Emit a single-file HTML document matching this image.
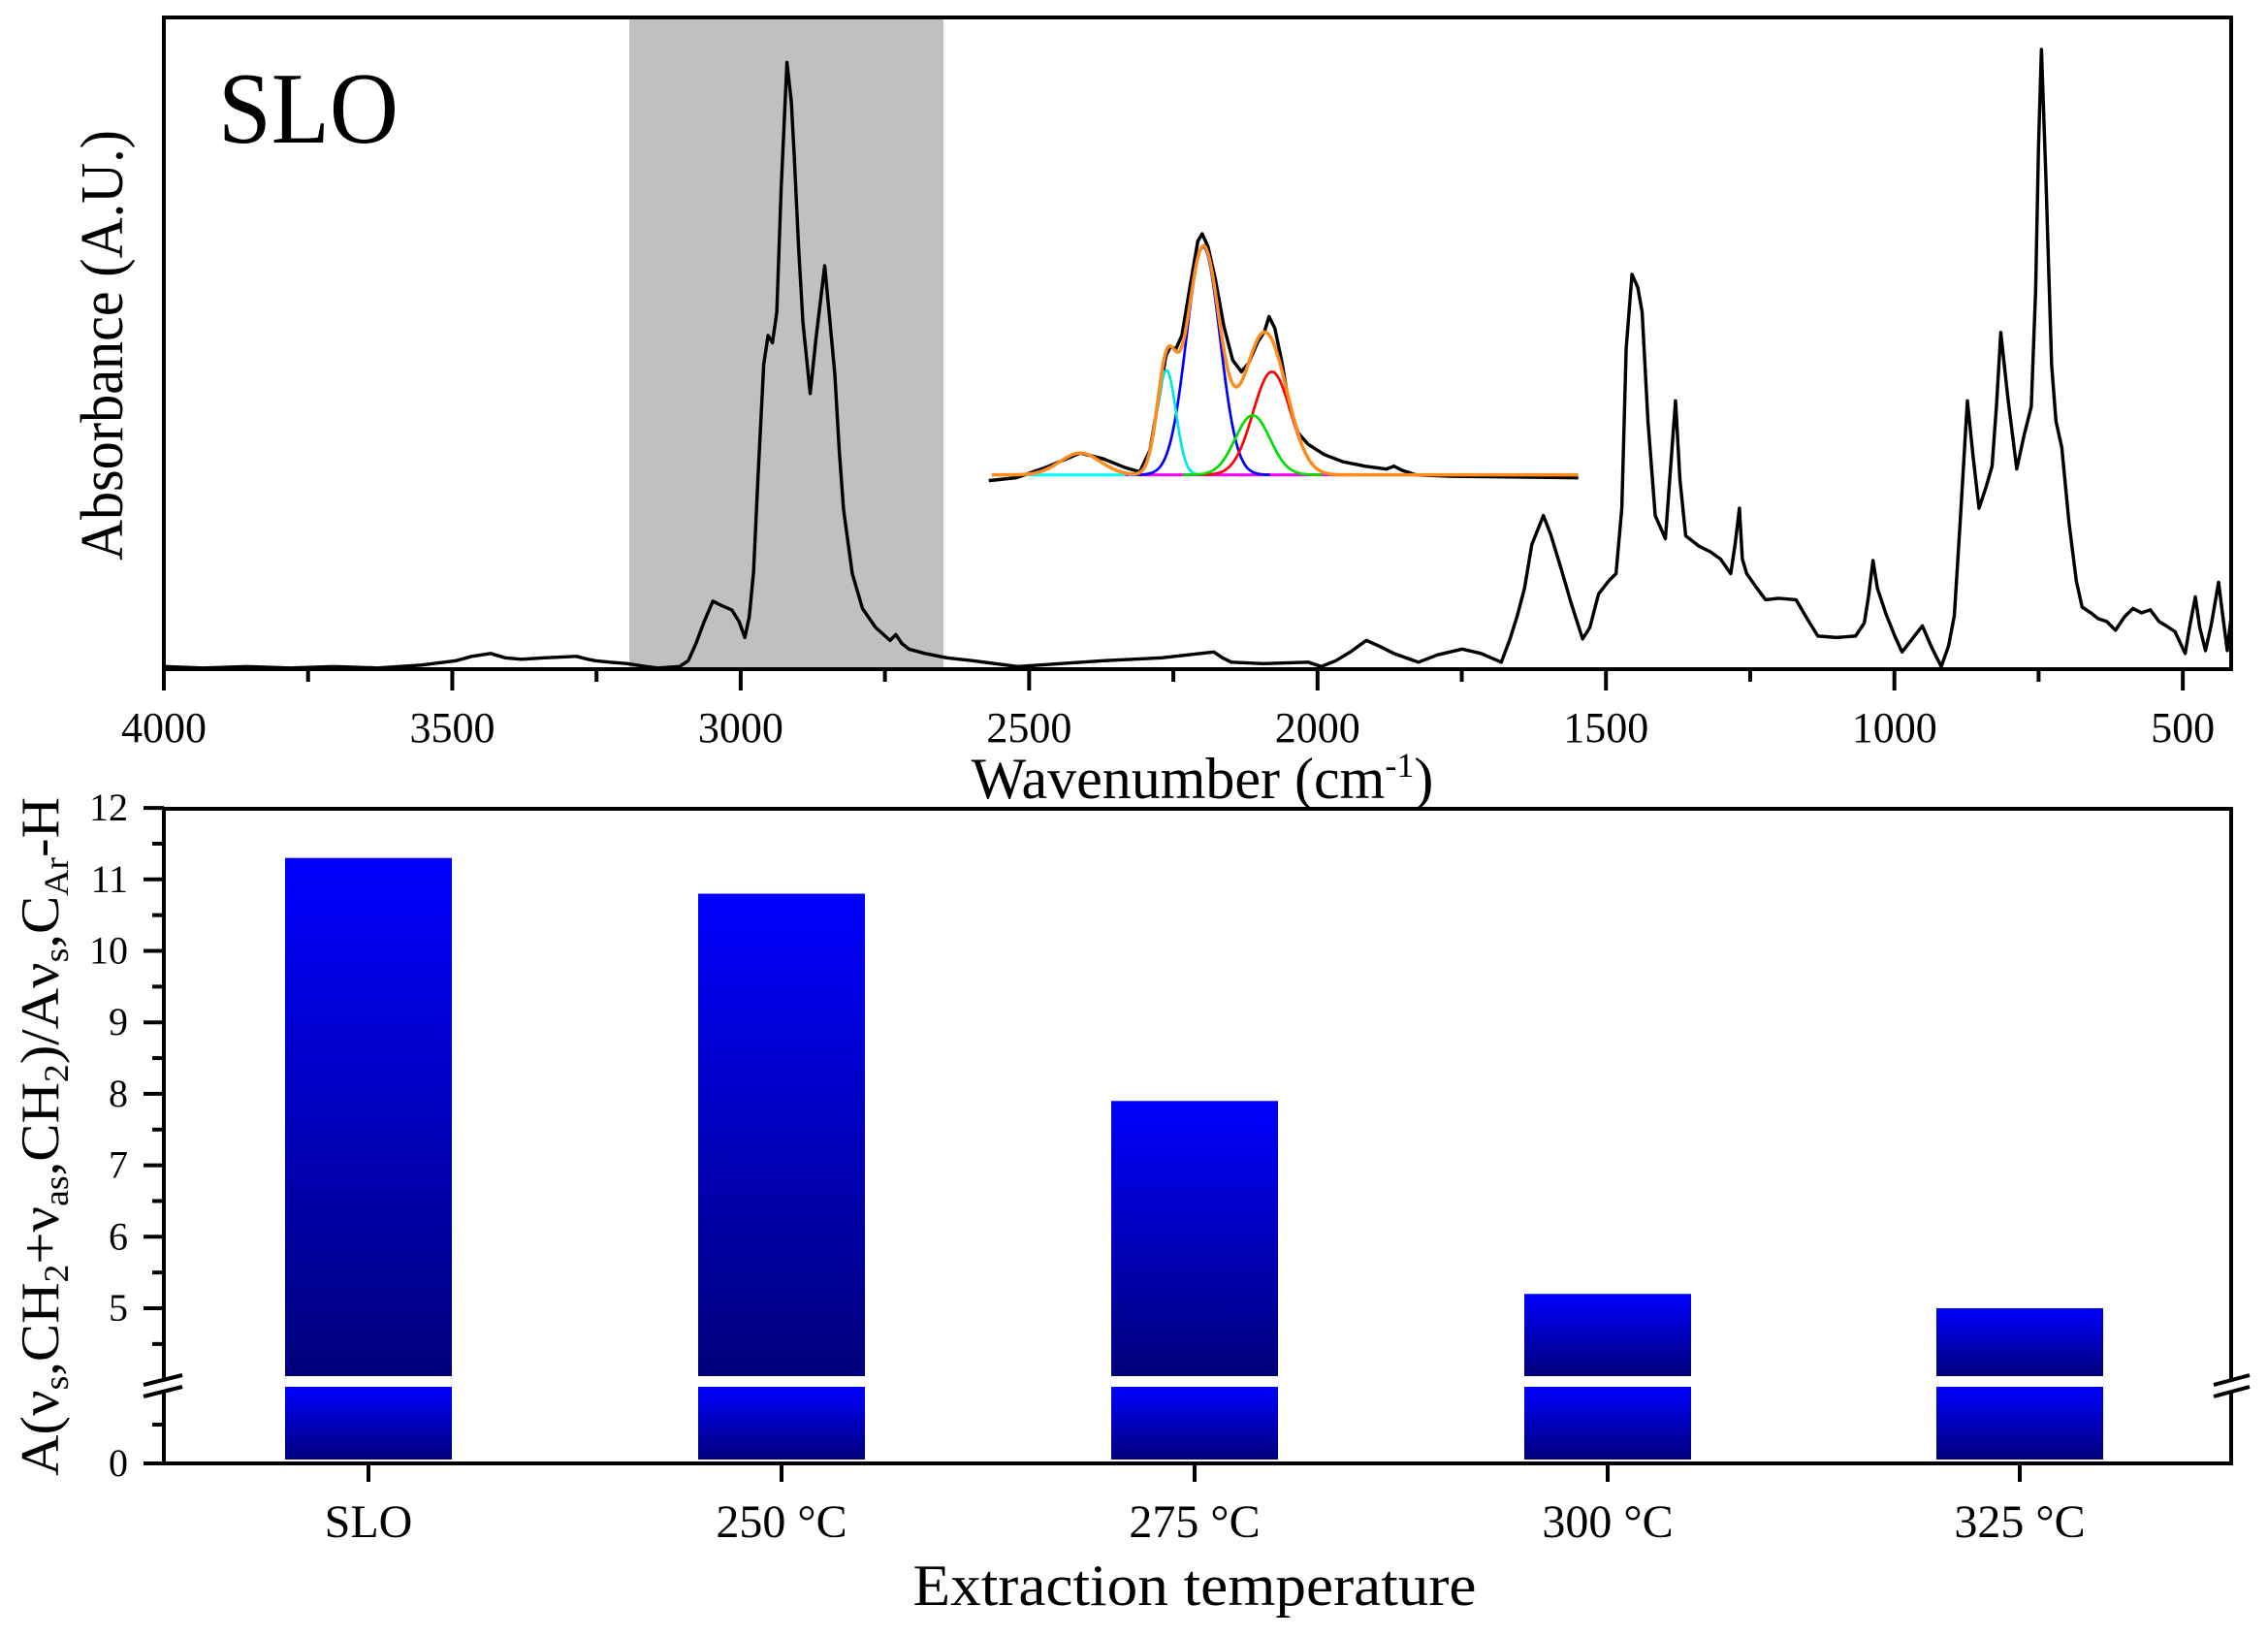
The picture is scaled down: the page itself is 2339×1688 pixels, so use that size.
<!DOCTYPE html>
<html><head><meta charset="utf-8"><style>
html,body{margin:0;padding:0;background:#fff;}
svg{display:block;}
text{font-family:"Liberation Serif",serif;fill:#000;}
</style></head><body>
<svg id="s" width="2339" height="1688" viewBox="0 0 2339 1688" xmlns="http://www.w3.org/2000/svg">
<defs>
<linearGradient id="g" x1="0" y1="0" x2="0" y2="1">
<stop offset="0" stop-color="#0000ff"/><stop offset="1" stop-color="#00007a"/></linearGradient>
<clipPath id="cp"><rect x="169" y="18" width="2132" height="672"/></clipPath>
</defs>
<rect width="2339" height="1688" fill="#fff"/>
<rect x="649" y="18" width="324" height="672" fill="#c0c0c0"/>
<g clip-path="url(#cp)">
<g transform="scale(1.4974)" fill="none" stroke-linejoin="round">
<polyline stroke="#000" stroke-width="2.3" points="113,459 140,460 170,459 200,460 230,459 260,460 290,458 314,455 325,452 338,450 348,453 359,454 375,453 397,452 405,454 410,455 420,456 432,457 445,459 453,460 468,459 474,455 479,444 485,428 491,414 497,417 504,420 509,428 513,439 516,425 519,394 522,330 526,251 529,231 532,236 535,215 538,130 542,43 545,70 547,107 550,170 553,222 558,271 562,233 568,183 571,215 575,258 578,310 581,351 587,395 594,419 603,432 613,441 617,437 621,443 626,447 637,450 652,453 670,455 701,459 730,457 760,455 800,453 836,449 842,453 848,456 870,457 901,456 910,459 920,455 930,449 941,441 950,445 960,450 977,456 990,451 1007,447 1020,450 1034,456 1040,440 1045,424 1050,405 1055,375 1063,355 1068,368 1075,391 1082,415 1090,440 1095,432 1101,409 1108,400 1113,395 1117,350 1120,240 1124,189 1128,198 1131,215 1135,290 1140,355 1147,371 1150,330 1154,276 1157,330 1161,369 1170,376 1178,380 1185,385 1192,395 1195,375 1198,350 1200,385 1203,395 1210,405 1216,413 1225,412 1237,413 1244,425 1252,438 1265,439 1278,438 1284,429 1287,410 1290,386 1293,405 1299,423 1305,438 1310,449 1317,440 1324,431 1330,445 1337,459 1342,445 1346,424 1350,360 1355,276 1359,315 1363,350 1368,335 1372,321 1375,280 1378,229 1383,275 1389,323 1394,300 1399,280 1402,200 1404,100 1406,34 1409,120 1413,251 1416,290 1420,308 1425,360 1430,400 1434,418 1440,422 1445,426 1451,428 1457,434 1463,425 1469,419 1475,422 1481,420 1487,428 1492,431 1498,435 1505,450 1508,432 1512,411 1515,432 1519,448 1523,430 1528,401 1531,425 1534,448 1536,430 1538,415 1541,440 1545,440"/>
<g id="inset"></g>
</g>
</g>
<rect x="169" y="18" width="2132" height="672" fill="none" stroke="#000" stroke-width="4"/>
<g stroke="#000" stroke-width="4" id="xt"></g>
<g font-size="44" text-anchor="middle" id="xl"></g>
<text x="1240" y="823" font-size="60" text-anchor="middle">Wavenumber (cm<tspan dy="-22" font-size="36">-1</tspan><tspan dy="22">)</tspan></text>
<text x="225" y="147" font-size="105" textLength="186" lengthAdjust="spacingAndGlyphs">SLO</text>
<text transform="translate(126,356) rotate(-90)" font-size="62" text-anchor="middle" textLength="444" lengthAdjust="spacingAndGlyphs">Absorbance (A.U.)</text>
<g id="bars"></g>
<polyline points="169,1424 169,834 2301,834 2301,1424" fill="none" stroke="#000" stroke-width="4"/>
<polyline points="169,1436 169,1509 2301,1509 2301,1436" fill="none" stroke="#000" stroke-width="4"/>
<g stroke="#000" stroke-width="4" id="yt"></g>
<g stroke="#000" stroke-width="4">
<line x1="148" y1="1428" x2="188" y2="1418"/><line x1="148" y1="1440" x2="188" y2="1430"/>
<line x1="2283" y1="1428" x2="2320" y2="1418"/><line x1="2283" y1="1440" x2="2320" y2="1430"/>
</g>
<g font-size="40" text-anchor="end" id="yl"></g>
<g font-size="48" text-anchor="middle">
<text x="380" y="1585">SLO</text><text x="806" y="1585">250 °C</text><text x="1232" y="1585">275 °C</text><text x="1658" y="1585">300 °C</text><text x="2083" y="1585">325 °C</text>
</g>
<text x="1232" y="1655" font-size="60" text-anchor="middle" textLength="581" lengthAdjust="spacingAndGlyphs">Extraction temperature</text>
<text transform="translate(60,1172) rotate(-90)" font-size="56" text-anchor="middle" textLength="700" lengthAdjust="spacingAndGlyphs">A(ν<tspan font-size="36" dy="10">s</tspan><tspan dy="-10">,CH</tspan><tspan font-size="36" dy="10">2</tspan><tspan dy="-10">+ν</tspan><tspan font-size="36" dy="10">as</tspan><tspan dy="-10">,CH</tspan><tspan font-size="36" dy="10">2</tspan><tspan dy="-10">)/Aν</tspan><tspan font-size="36" dy="10">s</tspan><tspan dy="-10">,C</tspan><tspan font-size="36" dy="10">Ar</tspan><tspan dy="-10">-H</tspan></text>
</svg>
<script>
var NS="http://www.w3.org/2000/svg";
function el(p,t,a,txt){var e=document.createElementNS(NS,t);for(var k in a)e.setAttribute(k,a[k]);if(txt!==undefined)e.textContent=txt;p.appendChild(e);return e;}
var X=function(w){return 169+(4000-w)*0.5949;};
var xt=document.getElementById('xt'),xl=document.getElementById('xl');
for(var w=4000;w>=500;w-=250){var x=X(w);var maj=(w%500==0);el(xt,'line',{x1:x,y1:690,x2:x,y2:maj?712:703});if(maj)el(xl,'text',{x:x,y:765},String(w));}
var ins=document.getElementById('inset');
function gs(x,c,h,s){return h*Math.exp(-0.5*Math.pow((x-c)/s,2));}
var comps=[[828.7,157,11.5,'#0000ff'],[803.4,72,6.5,'#00e5e5'],[876,71,13,'#ff0000'],[862.7,41,12,'#00dd00'],[744,15,14,null]];
var y0=327;
function line(pts,col,wd){el(ins,'polyline',{points:pts.join(' '),stroke:col,'stroke-width':wd});}
var pc=[];for(var x=700;x<=790;x+=2)pc.push(x+','+y0);line(pc,'#00ffff',2);
var pm=[];for(var x=775;x<=935;x+=2)pm.push(x+','+y0);line(pm,'#ff00ff',2);
var bp="681,331 700,329 720,322 744,312 760,316 775,322 785,325 792,310 798,275 803,245 806,239 810,240 814,231 820,195 825,166 828,161 832,170 837,192 843,225 849,248 855,256 860,250 866,236 871,228 874,218 878,226 883,250 888,280 894,298 901,306 912,313 925,318 940,321 955,323 960,321 966,324 975,327 1000,328 1087,329";
el(ins,'polyline',{points:bp,stroke:'#000','stroke-width':2.3});
comps.forEach(function(c){if(!c[3])return;var p=[];for(var x=c[0]-4*c[2];x<=c[0]+4*c[2];x+=1)p.push(x.toFixed(1)+','+(y0-gs(x,c[0],c[1],c[2])).toFixed(1));line(p,c[3],1.8);});
var po=[];for(var x=683;x<=1087;x+=1){var s=0;comps.forEach(function(c){s+=gs(x,c[0],c[1],c[2]);});po.push(x+','+(y0-s).toFixed(1));}
line(po,'#ff8c1a',2.3);
var bars=document.getElementById('bars');
var Y=function(v){return 1349-(v-5)*73.7;};
[[380,11.3],[806,10.8],[1232,7.9],[1658,5.2],[2083,5.0]].forEach(function(b){
 el(bars,'rect',{x:b[0]-86,y:Y(b[1]),width:172,height:1419-Y(b[1]),fill:'url(#g)'});
 el(bars,'rect',{x:b[0]-86,y:1430,width:172,height:75,fill:'url(#g)'});
 el(xt,'line',{x1:b[0],y1:1509,x2:b[0],y2:1528});
});
var yt=document.getElementById('yt'),yl=document.getElementById('yl');
for(var v=12;v>=4.5;v-=0.5){var y=Y(v);var maj=(v%1==0);el(yt,'line',{x1:maj?148:157,y1:y,x2:169,y2:y});if(maj)el(yl,'text',{x:132,y:y+13},String(v));}
el(yt,'line',{x1:157,y1:1469,x2:169,y2:1469});
el(yt,'line',{x1:148,y1:1509,x2:169,y2:1509});
el(yl,'text',{x:132,y:1522},'0');
</script>
</body></html>
